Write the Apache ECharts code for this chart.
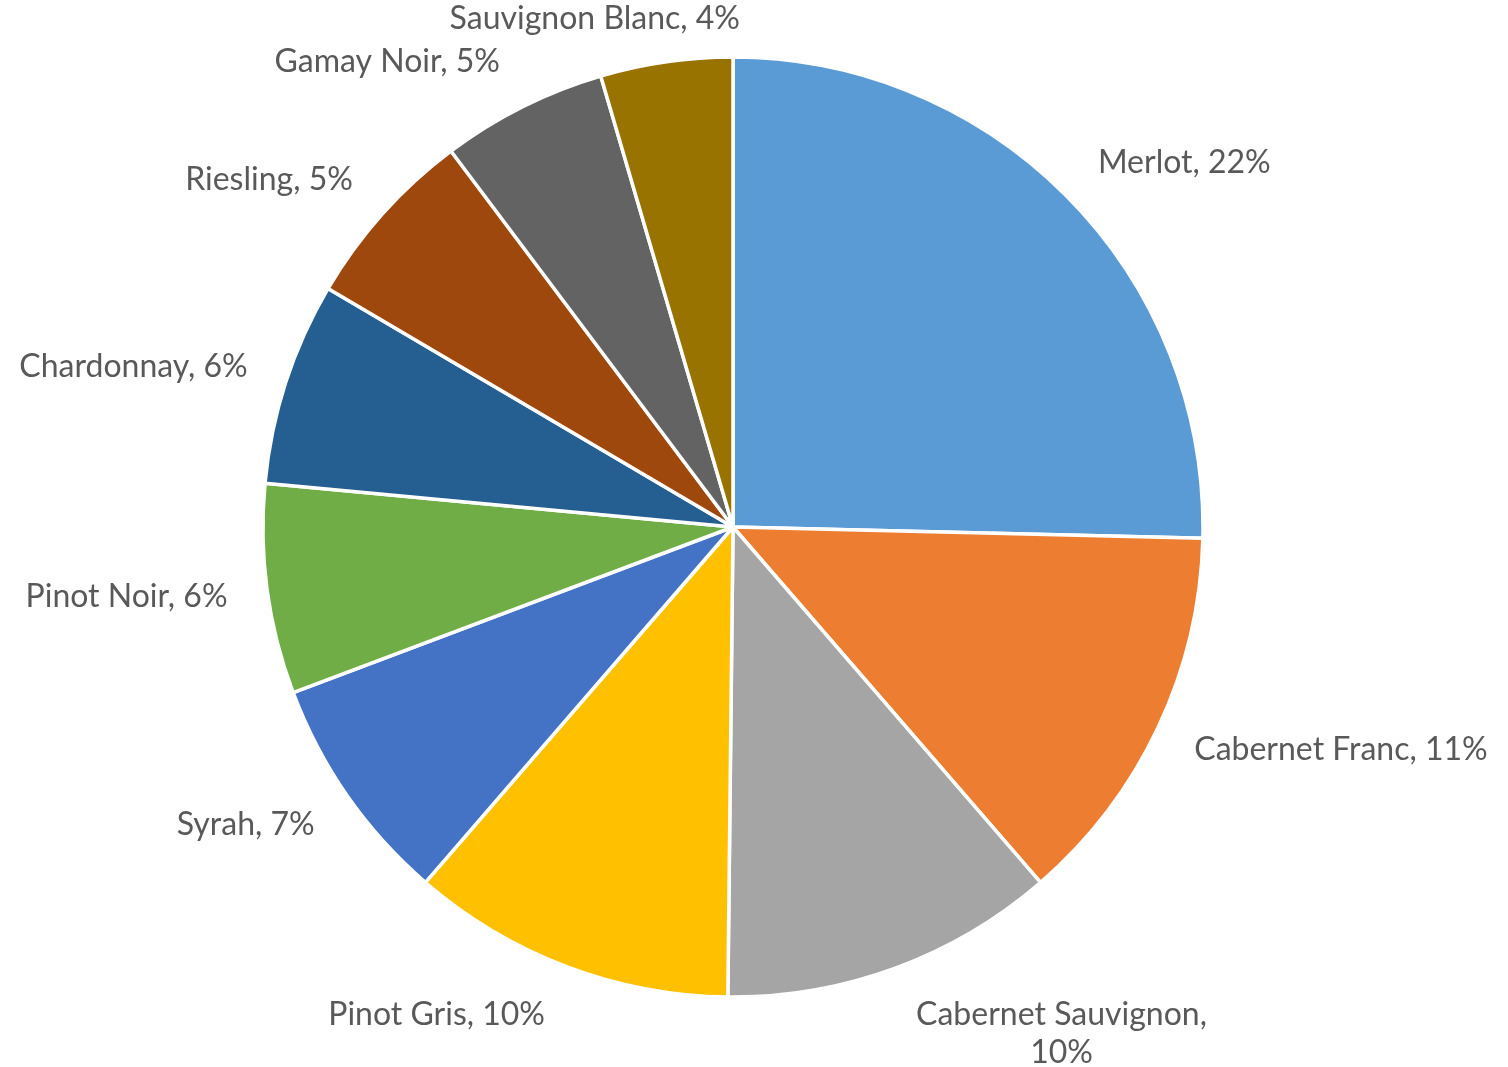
<!DOCTYPE html>
<html>
<head>
<meta charset="utf-8">
<script src="https://cdn.jsdelivr.net/npm/echarts@6/dist/echarts.min.js"></script>
<style>
html,body{margin:0;padding:0;background:#fff;}
#chart{width:1508px;height:1067px;}
</style>
</head>
<body>
<div id="chart"></div>
<script>
var categories = ['Merlot','Cabernet Franc','Cabernet Sauvignon','Pinot Gris','Syrah','Pinot Noir','Chardonnay','Riesling','Gamay Noir','Sauvignon Blanc'];
var values = [21.8, 11.4, 9.9, 9.6, 6.8, 6.2, 6.0, 5.4, 4.9, 3.9];
var colors = ['#5B9BD5','#ED7D31','#A5A5A5','#FFC000','#4472C4','#70AD47','#255E91','#9E480E','#636363','#997300'];

var CX = 733, CY = 527, R = 470, GAP = 36, GAPX = 40;
var FONT = 32, LH = 38;
var total = values.reduce(function(a,b){return a+b;},0);
var mids = [];
(function(){
  var acc = 0;
  for (var i = 0; i < values.length; i++) {
    var a0 = acc / total * 2 * Math.PI;
    acc += values[i];
    var a1 = acc / total * 2 * Math.PI;
    mids.push((a0 + a1) / 2);
  }
})();

var chart = echarts.init(document.getElementById('chart'));
chart.setOption({
  animation: false,
  series: [{
    type: 'pie',
    center: [CX, CY],
    radius: R,
    startAngle: 90,
    clockwise: true,
    avoidLabelOverlap: false,
    data: categories.map(function(c, i){
      return {name: c, value: values[i], itemStyle: {color: colors[i]}};
    }),
    itemStyle: {borderColor: '#ffffff', borderWidth: 3.5},
    label: {
      show: true,
      position: 'outside',
      color: '#595959',
      fontFamily: 'Lato',
      fontSize: FONT,
      lineHeight: LH,
      align: 'center',
      formatter: function(p){
        var s = p.name + ', ' + Math.round(p.value) + '%';
        if (s.length > 20) s = p.name + ',\n' + Math.round(p.value) + '%';
        return s;
      }
    },
    labelLine: {show: false},
    labelLayout: function(params){
      var a = mids[params.dataIndex];
      var dx = Math.sin(a), dy = -Math.cos(a);
      var w = params.labelRect.width, h = params.labelRect.height;
      var sgn = dx >= 0 ? 1 : -1;
      var px = CX + (R + GAPX) * dx + sgn * Math.max(0, 0.6 - Math.abs(dx)) * 30;
      var left = dx >= 0 ? px : px - w;
      var cy = CY + (R + GAP) * dy + (h / 2 - 4) * dy;
      var top = cy - h / 2;
      if (top < 0) {
        top = 0;
        left = CX + 7 - w;
      }
      if (left + w > 1508) left = 1508 - w;
      if (left < 0) left = 0;
      return {x: left + w / 2, y: top + h / 2, align: 'center', verticalAlign: 'middle'};
    }
  }]
});
</script>
</body>
</html>
